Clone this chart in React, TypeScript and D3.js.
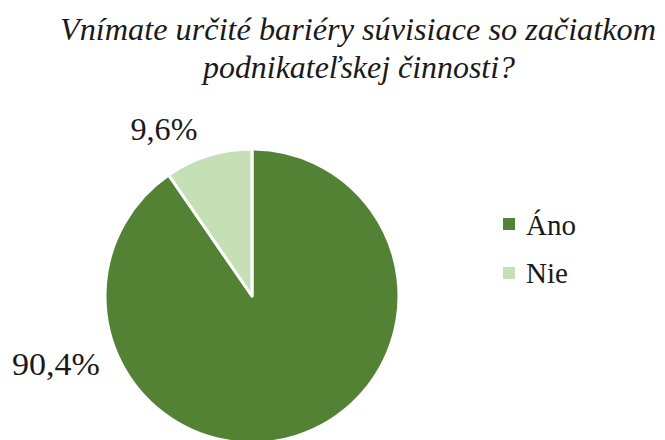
import React from "react";
import * as d3 from "d3";

const categories = ["Áno", "Nie"];
const values = [90.4, 9.6];
const labels = ["90,4%", "9,6%"];
const colors = ["#548235", "#C5E0B4"];
const titleLines = ["Vnímate určité bariéry súvisiace so začiatkom", "podnikateľskej činnosti?"];

export default function App() {
  const W = 665, H = 440;
  const cx = 252, cy = 296, r = 147;
  const pie = d3.pie<number>().sort(null).value((d) => d)(values);
  const arc = d3.arc<d3.PieArcDatum<number>>().innerRadius(0).outerRadius(r);
  const labelPos = [
    [56, 375],
    [164, 140],
  ];
  const titleX = [358, 359];
  const titleY = [40, 78];
  const titleW = [596, 312];
  return (
    <svg width={W} height={H} style={{ position: "absolute", left: 0, top: 0, background: "#fff" }}>
      <rect width={W} height={H} fill="#fff" />
      {titleLines.map((t, i) => (
        <text key={i} x={titleX[i]} y={titleY[i]} textAnchor="middle" fontFamily="'Liberation Serif', serif" fontStyle="italic" fontSize={31} fill="#1a1a1a"
          textLength={titleW[i]} lengthAdjust="spacingAndGlyphs">
          {t}
        </text>
      ))}
      <g transform={`translate(${cx},${cy})`}>
        {pie.map((p, i) => (
          <path key={i} d={arc(p) || ""} fill={colors[i]} stroke="#fff" strokeWidth={3} strokeLinejoin="round" />
        ))}
      </g>
      {labels.map((l, i) => (
        <text key={i} x={labelPos[i][0]} y={labelPos[i][1]} textAnchor="middle" fontFamily="'Liberation Serif', serif" fontSize={32} fill="#1a1a1a"
          textLength={i === 0 ? 88 : 67} lengthAdjust="spacingAndGlyphs">
          {l}
        </text>
      ))}
      {categories.map((c, i) => (
        <g key={i}>
          <rect x={503} y={218 + i * 49} width={12} height={12} fill={colors[i]} />
          <text x={526} y={235 + i * 48} fontFamily="'Liberation Serif', serif" fontSize={29} fill="#1a1a1a">{c}</text>
        </g>
      ))}
    </svg>
  );
}
